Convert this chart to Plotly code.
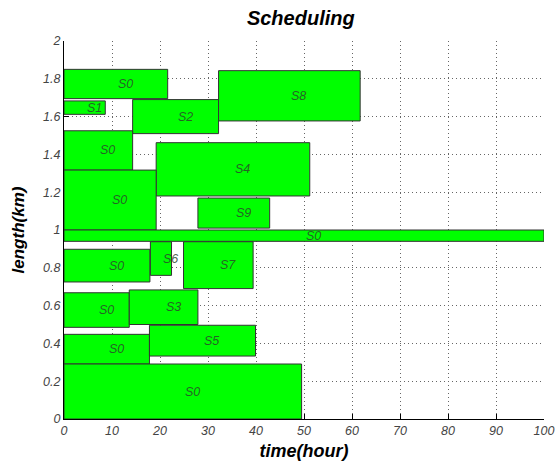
import plotly.graph_objects as go

names = ["S0", "S1", "S2", "S8", "S0", "S4", "S0", "S9", "S0", "S0", "S6", "S7",
         "S0", "S3", "S0", "S5", "S0"]
x_start = [0, 0, 14.3, 32.2, 0, 19.2, 0, 27.9, 0, 0, 18.0, 24.9, 0, 13.6, 0, 17.8, 0]
x_end = [21.6, 8.6, 32.2, 61.7, 14.3, 51.2, 19.2, 42.85, 100, 17.9, 22.4, 39.4,
         13.6, 27.9, 17.8, 39.9, 49.5]
y_low = [1.695, 1.612, 1.51, 1.577, 1.317, 1.18, 1.0, 1.01, 0.94, 0.725, 0.76, 0.69,
         0.485, 0.50, 0.291, 0.333, 0.0]
y_high = [1.85, 1.683, 1.69, 1.843, 1.525, 1.462, 1.317, 1.169, 1.0, 0.898, 0.938,
          0.938, 0.668, 0.683, 0.448, 0.496, 0.291]

x_ticks = [0, 10, 20, 30, 40, 50, 60, 70, 80, 90, 100]
y_ticks = [0, 0.2, 0.4, 0.6, 0.8, 1, 1.2, 1.4, 1.6, 1.8, 2]
y_tick_text = ["0", "0.2", "0.4", "0.6", "0.8", "1", "1.2", "1.4", "1.6", "1.8", "2"]

fig = go.Figure()

shapes = []
annotations = []
for n, a, b, c, d in zip(names, x_start, x_end, y_low, y_high):
    shapes.append(dict(type="rect", xref="x", yref="y", x0=a, x1=b, y0=c, y1=d,
                       fillcolor="#00ff00", line=dict(color="#333333", width=1),
                       layer="above"))
    annotations.append(dict(x=(a + b) / 2, y=(c + d) / 2, xref="x", yref="y",
                            text=n, showarrow=False, xanchor="left", yanchor="middle",
                            font=dict(family="Liberation Sans", size=12.5,
                                      color="rgba(45,70,45,0.85)", style="italic")))

fig.add_trace(go.Scatter(x=[0, 100], y=[0, 2], mode="markers",
                         marker=dict(opacity=0), hoverinfo="skip", showlegend=False))

grid_dash = "1px,3px"

fig.update_layout(
    width=555, height=464,
    margin=dict(l=64, r=11, t=41, b=45),
    paper_bgcolor="white", plot_bgcolor="white",
    shapes=shapes, annotations=annotations,
    title=dict(text="Scheduling", x=0.542, xanchor="center", y=0.962, yanchor="middle",
               font=dict(family="Liberation Sans", size=20, color="black",
                         weight="bold", style="italic")),
    xaxis=dict(range=[0, 100], tickvals=x_ticks, showgrid=True, gridcolor="#666666",
               griddash=grid_dash, gridwidth=1, showline=True, linecolor="black",
               linewidth=1, ticks="inside", ticklen=5, tickcolor="black",
               zeroline=False, automargin=False, ticklabeloverflow="allow",
               tickfont=dict(family="Liberation Sans", size=12.5, color="#444444",
                             style="italic"),
               title=dict(text="time(hour)", standoff=7,
                          font=dict(family="Liberation Sans", size=18, color="black",
                                    weight="bold", style="italic"))),
    yaxis=dict(range=[0, 2], tickvals=y_ticks, ticktext=y_tick_text, showgrid=True,
               gridcolor="#666666", griddash=grid_dash, gridwidth=1, showline=True,
               linecolor="black", linewidth=1, ticks="inside", ticklen=5,
               tickcolor="black", zeroline=False, automargin=False,
               ticklabeloverflow="allow",
               tickfont=dict(family="Liberation Sans", size=12.5, color="#444444",
                             style="italic"),
               title=dict(text="length(km)", standoff=14,
                          font=dict(family="Liberation Sans", size=17, color="black",
                                    weight="bold", style="italic"))),
)

fig.write_html("out.html",
               config={"displayModeBar": False},
               post_script="document.body.style.margin='0';"
                           "document.documentElement.style.overflow='hidden';")
